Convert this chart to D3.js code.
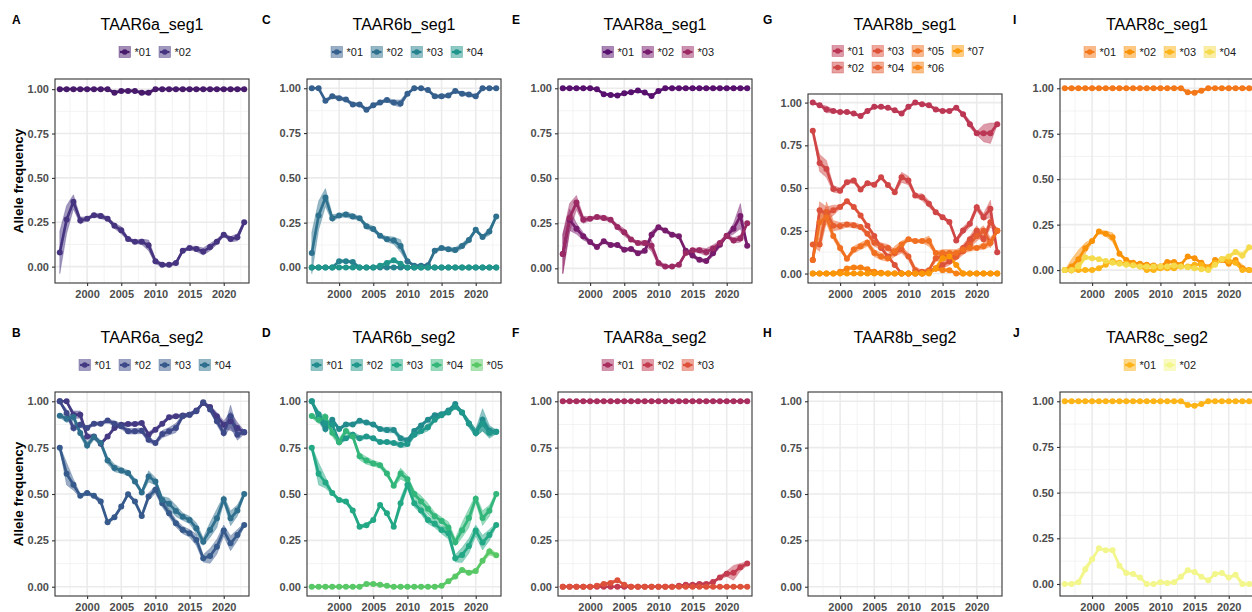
<!DOCTYPE html>
<html>
<head>
<meta charset="utf-8">
<script src="https://cdn.jsdelivr.net/npm/d3@7"></script>
<style>
  body { margin: 0; background: #fff; }
  svg { display: block; font-family: "Liberation Sans", Arial, sans-serif; }
</style>
</head>
<body>
<div id="chart"></div>
<script>
var years = [1996,1997,1998,1999,2000,2001,2002,2003,2004,2005,2006,2007,2008,2009,
             2010,2011,2012,2013,2014,2015,2016,2017,2018,2019,2020,2021,2022,2023];
var xTicks = [2000, 2005, 2010, 2015, 2020];
var yTicks = [0, 0.25, 0.5, 0.75, 1];

// A
var alleles_TAAR6a_seg1 = ["*01","*02"];
var freq_TAAR6a_seg1 = [
  [1,1,1,1,1,1,1,1,0.98,0.99,0.99,0.99,0.98,0.98,1,1,1,1,1,1,1,1,1,1,1,1,1,1],
  [0.08,0.265,0.365,0.26,0.27,0.29,0.285,0.27,0.23,0.205,0.155,0.14,0.14,0.12,0.03,0.01,0.01,0.02,0.09,0.105,0.1,0.085,0.11,0.14,0.18,0.155,0.165,0.25]
];
var band_TAAR6a_seg1 = [
  [0,0,0,0,0,0,0,0,0.01,0.005,0.005,0.005,0.01,0.01,0.005,0,0,0,0,0,0,0,0,0,0,0,0,0],
  [0.12,0.08,0.04,0.02,0.01,0.01,0.015,0.01,0.015,0.02,0.01,0.01,0.015,0.03,0.015,0.01,0.005,0.01,0.01,0.01,0.015,0.02,0.02,0.015,0.01,0.015,0.02,0.01]
];

// B
var alleles_TAAR6a_seg2 = ["*01","*02","*03","*04"];
var freq_TAAR6a_seg2 = [
  [1,1,0.928,0.928,0.81,0.81,0.771,0.81,0.856,0.874,0.877,0.877,0.883,0.82,0.847,0.879,0.914,0.919,0.923,0.928,0.95,0.991,0.969,0.919,0.874,0.892,0.856,0.832],
  [1,0.937,0.856,0.874,0.856,0.879,0.879,0.896,0.879,0.865,0.838,0.838,0.841,0.793,0.775,0.823,0.838,0.856,0.919,0.928,0.946,0.995,0.955,0.892,0.829,0.919,0.82,0.834],
  [0.75,0.609,0.55,0.49,0.505,0.49,0.459,0.348,0.375,0.432,0.499,0.459,0.382,0.486,0.523,0.45,0.396,0.342,0.306,0.288,0.252,0.153,0.166,0.216,0.303,0.234,0.279,0.333],
  [0.922,0.906,0.915,0.829,0.762,0.807,0.775,0.681,0.64,0.627,0.613,0.568,0.508,0.595,0.568,0.468,0.447,0.409,0.378,0.36,0.315,0.243,0.306,0.369,0.472,0.369,0.411,0.5]
];
var band_TAAR6a_seg2 = [
  [0,0,0.02,0.02,0.015,0.01,0.01,0.01,0.01,0.01,0.01,0.01,0.01,0.015,0.01,0.01,0.01,0.01,0.01,0.01,0.01,0.005,0.01,0.02,0.02,0.05,0.03,0.01],
  [0,0.02,0.02,0.015,0.01,0.01,0.01,0.01,0.015,0.015,0.015,0.015,0.015,0.015,0.01,0.02,0.02,0.025,0.01,0.01,0.01,0.005,0.01,0.02,0.02,0.06,0.03,0.01],
  [0.01,0.06,0.03,0.01,0.01,0.01,0.015,0.01,0.01,0.01,0.01,0.01,0.01,0.02,0.02,0.02,0.02,0.02,0.02,0.02,0.03,0.02,0.04,0.04,0.03,0.04,0.03,0.01],
  [0.01,0.02,0.02,0.02,0.02,0.015,0.015,0.02,0.02,0.015,0.015,0.015,0.01,0.03,0.02,0.02,0.03,0.03,0.02,0.02,0.03,0.02,0.04,0.05,0.02,0.04,0.03,0.01]
];

// C
var alleles_TAAR6b_seg1 = ["*01","*02","*03","*04"];
var freq_TAAR6b_seg1 = [
  [1,1,0.93,0.955,0.945,0.937,0.91,0.91,0.88,0.905,0.92,0.935,0.92,0.915,0.97,1,1,0.99,0.955,0.955,0.96,0.985,0.97,0.965,0.955,1,1,1],
  [0.08,0.29,0.39,0.275,0.29,0.295,0.285,0.275,0.23,0.215,0.177,0.158,0.15,0.12,0.035,0.01,0.01,0.013,0.093,0.108,0.102,0.097,0.12,0.153,0.21,0.17,0.2,0.285],
  [0,0,0,0,0.035,0.035,0.03,0,0,0,0,0,0,0,0,0,0,0,0,0,0,0,0,0,0,0,0,0],
  [0,0,0,0,0,0,0,0,0,0,0.01,0.025,0.04,0.02,0,0,0,0,0,0,0,0,0,0,0,0,0,0]
];
var band_TAAR6b_seg1 = [
  [0,0,0.01,0.01,0.01,0.01,0.01,0.01,0.01,0.01,0.01,0.01,0.015,0.02,0.01,0,0,0.005,0.01,0.01,0.01,0.005,0.01,0.01,0.01,0,0,0],
  [0.115,0.08,0.05,0.02,0.01,0.015,0.015,0.01,0.015,0.015,0.01,0.015,0.02,0.035,0.01,0.005,0.005,0.005,0.01,0.01,0.01,0.015,0.015,0.015,0.01,0.01,0.02,0.01],
  [0,0,0,0,0.01,0.005,0.01,0,0,0,0,0,0,0,0,0,0,0,0,0,0,0,0,0,0,0,0,0],
  [0,0,0,0,0,0,0,0,0,0,0.005,0.01,0.01,0.01,0,0,0,0,0,0,0,0,0,0,0,0,0,0]
];

// D
var alleles_TAAR6b_seg2 = ["*01","*02","*03","*04","*05"];
var freq_TAAR6b_seg2 = [
  [1,0.91,0.85,0.9,0.85,0.875,0.875,0.895,0.885,0.875,0.85,0.845,0.845,0.8,0.79,0.84,0.87,0.9,0.925,0.93,0.95,0.985,0.94,0.88,0.83,0.9,0.84,0.835],
  [1,0.93,0.88,0.875,0.78,0.8,0.82,0.8,0.81,0.8,0.78,0.78,0.775,0.765,0.77,0.82,0.84,0.86,0.9,0.925,0.94,0.97,0.94,0.88,0.83,0.88,0.83,0.835],
  [0.75,0.609,0.562,0.505,0.468,0.459,0.411,0.324,0.332,0.36,0.441,0.396,0.324,0.45,0.55,0.45,0.411,0.36,0.339,0.306,0.288,0.153,0.171,0.22,0.303,0.238,0.279,0.333],
  [0.92,0.9,0.915,0.83,0.78,0.84,0.81,0.703,0.68,0.665,0.655,0.61,0.545,0.61,0.58,0.5,0.46,0.42,0.38,0.355,0.32,0.24,0.305,0.37,0.475,0.37,0.41,0.5],
  [0,0,0,0,0,0,0,0,0.015,0.015,0.01,0.005,0,0,0,0,0,0,0,0.005,0.03,0.055,0.09,0.075,0.085,0.14,0.19,0.17]
];
var band_TAAR6b_seg2 = [
  [0,0.02,0.02,0.015,0.01,0.01,0.01,0.01,0.01,0.01,0.01,0.015,0.015,0.015,0.01,0.01,0.01,0.01,0.01,0.01,0.01,0.01,0.01,0.02,0.02,0.06,0.03,0.01],
  [0,0.02,0.02,0.015,0.015,0.01,0.015,0.015,0.01,0.01,0.01,0.01,0.01,0.015,0.015,0.015,0.015,0.02,0.01,0.01,0.01,0.01,0.01,0.02,0.02,0.04,0.03,0.01],
  [0.01,0.06,0.03,0.01,0.01,0.01,0.015,0.01,0.01,0.01,0.01,0.01,0.01,0.03,0.02,0.02,0.02,0.02,0.02,0.02,0.03,0.02,0.04,0.04,0.03,0.04,0.03,0.01],
  [0.01,0.02,0.02,0.02,0.02,0.015,0.015,0.02,0.02,0.015,0.015,0.015,0.01,0.03,0.02,0.02,0.03,0.03,0.02,0.02,0.03,0.02,0.04,0.05,0.02,0.04,0.03,0.01],
  [0,0,0,0,0,0,0,0,0.005,0.005,0.005,0,0,0,0,0,0,0,0,0,0.005,0.01,0.01,0.01,0.01,0.01,0.02,0.01]
];

// E
var alleles_TAAR8a_seg1 = ["*01","*02","*03"];
var freq_TAAR8a_seg1 = [
  [1,1,1,1,1,0.995,0.967,0.963,0.96,0.972,0.978,0.987,0.976,0.957,0.985,1,1,1,1,1,1,1,1,1,1,1,1,1],
  [0.08,0.27,0.22,0.178,0.146,0.118,0.15,0.13,0.13,0.103,0.108,0.084,0.097,0.187,0.228,0.21,0.187,0.178,0.097,0.071,0.047,0.041,0.084,0.131,0.181,0.22,0.29,0.125],
  [0.08,0.28,0.365,0.27,0.275,0.285,0.28,0.27,0.23,0.2,0.16,0.14,0.14,0.125,0.03,0.01,0.01,0.02,0.085,0.1,0.1,0.09,0.11,0.14,0.18,0.155,0.165,0.25]
];
var band_TAAR8a_seg1 = [
  [0,0,0,0,0,0.005,0.005,0.005,0.005,0.005,0.005,0.005,0.005,0.005,0.005,0,0,0,0,0,0,0,0,0,0,0,0,0],
  [0.11,0.06,0.03,0.02,0.01,0.01,0.01,0.01,0.01,0.01,0.01,0.01,0.01,0.02,0.01,0.01,0.01,0.01,0.01,0.01,0.01,0.01,0.015,0.015,0.01,0.03,0.07,0.01],
  [0.11,0.08,0.04,0.02,0.01,0.01,0.015,0.01,0.015,0.02,0.01,0.01,0.015,0.03,0.015,0.01,0.005,0.01,0.01,0.01,0.015,0.02,0.02,0.015,0.01,0.015,0.02,0.01]
];

// F
var alleles_TAAR8a_seg2 = ["*01","*02","*03"];
var freq_TAAR8a_seg2 = [
  [1,1,1,1,1,1,1,1,1,1,1,1,1,1,1,1,1,1,1,1,1,1,1,1,1,1,1,1],
  [0,0,0,0,0,0,0,0,0,0,0,0,0,0,0,0,0,0.005,0.01,0.01,0.015,0.015,0.025,0.05,0.07,0.075,0.105,0.125],
  [0,0,0,0,0,0.005,0.015,0.02,0.035,0.01,0,0,0,0,0,0,0,0,0,0,0,0,0,0,0,0,0,0]
];
var band_TAAR8a_seg2 = [
  [0,0,0,0,0,0,0,0,0,0,0,0,0,0,0,0,0,0,0,0,0,0,0,0,0,0,0,0],
  [0,0,0,0,0,0,0,0,0,0,0,0,0,0,0,0,0,0,0.005,0.005,0.005,0.005,0.005,0.01,0.015,0.04,0.02,0.01],
  [0,0,0,0,0,0.005,0.005,0.01,0.005,0.005,0,0,0,0,0,0,0,0,0,0,0,0,0,0,0,0,0,0]
];

// G
var alleles_TAAR8b_seg1 = ["*01","*02","*03","*04","*05","*06","*07"];
var freq_TAAR8b_seg1 = [
  [1,0.985,0.96,0.951,0.945,0.945,0.936,0.922,0.951,0.975,0.975,0.97,0.955,0.936,0.975,1,0.99,0.985,0.96,0.951,0.951,0.97,0.932,0.874,0.821,0.821,0.821,0.874],
  [0.835,0.647,0.612,0.495,0.485,0.534,0.544,0.491,0.528,0.52,0.563,0.518,0.476,0.563,0.544,0.456,0.447,0.408,0.359,0.33,0.301,0.194,0.252,0.291,0.388,0.33,0.379,0.125],
  [0.08,0.37,0.35,0.37,0.39,0.423,0.39,0.34,0.28,0.22,0.15,0.1,0.05,0,0,0,0,0.01,0.03,0.05,0.07,0.1,0.15,0.2,0.25,0.2,0.3,0.25],
  [0.17,0.17,0.36,0.28,0.278,0.287,0.283,0.272,0.233,0.18,0.16,0.15,0.12,0.14,0.1,0.02,0.01,0.02,0.09,0.1,0.1,0.1,0.13,0.17,0.22,0.25,0.18,0.25],
  [0.08,0.3,0.33,0.22,0.15,0.087,0.14,0.16,0.18,0.12,0.1,0.09,0.13,0.17,0.2,0.19,0.19,0.19,0.12,0.12,0.12,0.12,0.14,0.15,0.15,0.16,0.18,0.25],
  [0,0,0,0,0.01,0.03,0.035,0.035,0.025,0.01,0.005,0,0,0,0,0,0,0.01,0.03,0.02,0.02,0,0,0,0,0,0,0],
  [0,0,0,0,0,0,0,0,0,0,0,0,0,0,0,0,0,0,0.03,0.09,0.1,0.05,0,0,0,0,0,0]
];
var band_TAAR8b_seg1 = [
  [0,0.005,0.02,0.01,0.005,0.005,0.005,0.005,0.005,0.005,0.005,0.005,0.005,0.005,0.005,0,0.005,0.005,0.01,0.005,0.005,0.005,0.01,0.02,0.01,0.05,0.06,0.005],
  [0.005,0.05,0.05,0.02,0.015,0.01,0.015,0.01,0.01,0.01,0.01,0.01,0.01,0.03,0.025,0.01,0.02,0.02,0.01,0.01,0.01,0.01,0.02,0.02,0.02,0.02,0.05,0.005],
  [0.01,0.05,0.04,0.03,0.01,0.01,0.01,0.01,0.01,0.01,0.01,0.01,0.01,0.005,0,0,0,0.005,0.01,0.02,0.02,0.02,0.02,0.02,0.03,0.02,0.03,0.01],
  [0.01,0.04,0.06,0.03,0.02,0.015,0.015,0.015,0.015,0.02,0.02,0.02,0.02,0.02,0.02,0.02,0.01,0.01,0.02,0.02,0.02,0.02,0.02,0.02,0.03,0.03,0.03,0.01],
  [0.01,0.07,0.04,0.02,0.02,0.01,0.02,0.02,0.02,0.02,0.02,0.02,0.03,0.02,0.01,0.01,0.01,0.03,0.01,0.02,0.02,0.02,0.02,0.02,0.01,0.02,0.02,0.01],
  [0,0,0,0,0.005,0.01,0.01,0.01,0.01,0.005,0,0,0,0,0,0,0,0.005,0.01,0.01,0.01,0,0,0,0,0,0,0],
  [0,0,0,0,0,0,0,0,0,0,0,0,0,0,0,0,0,0,0.01,0.02,0.02,0.01,0,0,0,0,0,0]
];

// H
var alleles_TAAR8b_seg2 = [];
var freq_TAAR8b_seg2 = [];
var band_TAAR8b_seg2 = [];

// I
var alleles_TAAR8c_seg1 = ["*01","*02","*03","*04"];
var freq_TAAR8c_seg1 = [
  [1,1,1,1,1,1,1,1,1,1,1,1,1,1,1,1,1,1,0.978,0.976,0.987,1,1,1,1,1,1,1],
  [0,0.02,0.06,0.12,0.16,0.212,0.2,0.18,0.09,0.055,0.04,0.035,0.03,0.025,0.02,0.045,0.045,0.03,0.075,0.065,0.04,0.015,0.055,0.055,0.035,0.055,0.01,0],
  [0,0,0,0,0,0.01,0.03,0.05,0.04,0.035,0.03,0.02,0,0,0.01,0.01,0.01,0.02,0.02,0.03,0.03,0.01,0.04,0.06,0.05,0.04,0,0],
  [0,0,0.02,0.07,0.065,0.06,0.05,0.04,0.035,0.03,0.025,0.02,0.02,0.02,0.02,0.02,0.025,0.02,0.015,0.01,0.005,0,0.03,0.06,0.075,0.1,0.08,0.125]
];
var band_TAAR8c_seg1 = [
  [0,0,0,0,0,0,0,0,0,0,0,0,0,0,0,0,0,0,0.005,0.005,0.005,0,0,0,0,0,0,0],
  [0,0.04,0.05,0.03,0.01,0.01,0.015,0.025,0.01,0.005,0.005,0.005,0.005,0.005,0.005,0.005,0.005,0.005,0.005,0.005,0.005,0.005,0.005,0.005,0.005,0.01,0.02,0],
  [0,0,0,0,0,0.005,0.005,0.005,0.005,0.005,0.005,0.005,0,0,0.005,0.005,0.005,0.005,0.005,0.005,0.005,0.005,0.005,0.01,0.01,0.01,0,0],
  [0,0.01,0.02,0.01,0.005,0.005,0.005,0.005,0.005,0.005,0.005,0.005,0.005,0.005,0.005,0.005,0.005,0.005,0.005,0.005,0.005,0,0.01,0.01,0.01,0.01,0.02,0.01]
];

// J
var alleles_TAAR8c_seg2 = ["*01","*02"];
var freq_TAAR8c_seg2 = [
  [1,1,1,1,1,1,1,1,1,1,1,1,1,1,1,1,1,1,0.98,0.975,0.985,1,1,1,1,1,1,1],
  [0,0,0.01,0.08,0.135,0.195,0.185,0.185,0.1,0.06,0.055,0.035,0,0,0.01,0.005,0.01,0.04,0.075,0.065,0.04,0.02,0.055,0.06,0.035,0.05,0,0]
];
var band_TAAR8c_seg2 = [
  [0,0,0,0,0,0,0,0,0,0,0,0,0,0,0,0,0,0,0.005,0.005,0.005,0,0,0,0,0,0,0],
  [0,0,0.01,0.02,0.01,0.005,0.005,0.005,0.01,0.005,0.005,0.005,0,0,0.005,0.005,0.005,0.005,0.005,0.005,0.005,0.005,0.005,0.005,0.005,0.01,0.015,0]
];

var vir = d3.interpolateViridis, inf = d3.interpolateInferno;

var panels = [
  {letter:"A", title:"TAAR6a_seg1", row:0, col:0, alleles:alleles_TAAR6a_seg1, freq:freq_TAAR6a_seg1, band:band_TAAR6a_seg1, colors:[0.07,0.15].map(vir)},
  {letter:"B", title:"TAAR6a_seg2", row:1, col:0, alleles:alleles_TAAR6a_seg2, freq:freq_TAAR6a_seg2, band:band_TAAR6a_seg2, colors:[0.17,0.22,0.28,0.36].map(vir)},
  {letter:"C", title:"TAAR6b_seg1", row:0, col:1, alleles:alleles_TAAR6b_seg1, freq:freq_TAAR6b_seg1, band:band_TAAR6b_seg1, colors:[0.3,0.37,0.44,0.52].map(vir)},
  {letter:"D", title:"TAAR6b_seg2", row:1, col:1, alleles:alleles_TAAR6b_seg2, freq:freq_TAAR6b_seg2, band:band_TAAR6b_seg2, colors:[0.48,0.53,0.6,0.66,0.74].map(vir)},
  {letter:"E", title:"TAAR8a_seg1", row:0, col:2, alleles:alleles_TAAR8a_seg1, freq:freq_TAAR8a_seg1, band:band_TAAR8a_seg1, colors:[0.25,0.33,0.42].map(inf)},
  {letter:"F", title:"TAAR8a_seg2", row:1, col:2, alleles:alleles_TAAR8a_seg2, freq:freq_TAAR8a_seg2, band:band_TAAR8a_seg2, colors:[0.45,0.52,0.6].map(inf)},
  {letter:"G", title:"TAAR8b_seg1", row:0, col:3, alleles:alleles_TAAR8b_seg1, freq:freq_TAAR8b_seg1, band:band_TAAR8b_seg1, colors:[0.5,0.56,0.6,0.64,0.68,0.72,0.77].map(inf)},
  {letter:"H", title:"TAAR8b_seg2", row:1, col:3, alleles:alleles_TAAR8b_seg2, freq:freq_TAAR8b_seg2, band:band_TAAR8b_seg2, colors:[]},
  {letter:"I", title:"TAAR8c_seg1", row:0, col:4, alleles:alleles_TAAR8c_seg1, freq:freq_TAAR8c_seg1, band:band_TAAR8c_seg1, colors:[0.7,0.76,0.83,0.91].map(inf)},
  {letter:"J", title:"TAAR8c_seg2", row:1, col:4, alleles:alleles_TAAR8c_seg2, freq:freq_TAAR8c_seg2, band:band_TAAR8c_seg2, colors:[0.83,0.97].map(inf)}
];

var width = 1252, height = 612;
var plotLeft = [55, 307, 558, 808, 1060], plotW = 194, rowOff = 313;
var letterX = [12, 262, 512, 763, 1013];

var svg = d3.select("#chart").append("svg")
    .attr("width", width)
    .attr("height", height);

panels.forEach(function(p) {
  var y0 = p.row * rowOff;
  var left = plotLeft[p.col], right = left + plotW;
  var nRows = p.alleles.length > 5 ? 2 : 1;
  var top = y0 + (nRows > 1 ? 94 : 79), bottom = y0 + 283;
  var cx = (left + right) / 2;

  // y range from the data, with 5% padding like ggplot
  var lo = 0, hi = 1;
  p.freq.forEach(function(s, k) {
    s.forEach(function(v, i) {
      lo = Math.min(lo, v - p.band[k][i]);
      hi = Math.max(hi, v + p.band[k][i]);
    });
  });
  var pad = (hi - lo) * 0.05;

  var x = d3.scaleLinear().domain([1995.3, 2023.7]).range([left, right]);
  var y = d3.scaleLinear().domain([lo - pad, hi + pad]).range([bottom, top]);

  var g = svg.append("g");

  // panel letter and title
  g.append("text")
    .attr("x", letterX[p.col]).attr("y", y0 + 23.5)
    .attr("font-size", 12).attr("font-weight", "bold")
    .text(p.letter);
  g.append("text")
    .attr("x", cx).attr("y", y0 + 29.5)
    .attr("text-anchor", "middle")
    .attr("font-size", 16)
    .text(p.title);

  // grid
  var minorY = [0.125, 0.375, 0.625, 0.875].filter(function(v) { return v > y.domain()[0] && v < y.domain()[1]; });
  var minorX = [1997.5, 2002.5, 2007.5, 2012.5, 2017.5, 2022.5];
  g.selectAll(".gmy").data(minorY).enter().append("line")
    .attr("x1", left).attr("x2", right)
    .attr("y1", function(d) { return y(d); }).attr("y2", function(d) { return y(d); })
    .attr("stroke", "#F0F0F0").attr("stroke-width", 0.8);
  g.selectAll(".gmx").data(minorX).enter().append("line")
    .attr("y1", top).attr("y2", bottom)
    .attr("x1", function(d) { return x(d); }).attr("x2", function(d) { return x(d); })
    .attr("stroke", "#F0F0F0").attr("stroke-width", 0.8);
  g.selectAll(".gy").data(yTicks).enter().append("line")
    .attr("x1", left).attr("x2", right)
    .attr("y1", function(d) { return y(d); }).attr("y2", function(d) { return y(d); })
    .attr("stroke", "#EBEBEB").attr("stroke-width", 1.6);
  g.selectAll(".gx").data(xTicks).enter().append("line")
    .attr("y1", top).attr("y2", bottom)
    .attr("x1", function(d) { return x(d); }).attr("x2", function(d) { return x(d); })
    .attr("stroke", "#EBEBEB").attr("stroke-width", 1.6);

  var area = d3.area()
    .x(function(d, i) { return x(years[i]); })
    .y0(function(d) { return y(d[0] - d[1]); })
    .y1(function(d) { return y(d[0] + d[1]); });
  var line = d3.line()
    .x(function(d, i) { return x(years[i]); })
    .y(function(d) { return y(d); });

  // ribbons, then lines, then points
  p.freq.forEach(function(s, k) {
    var pts = s.map(function(v, i) { return [v, p.band[k][i]]; });
    g.append("path")
      .attr("d", area(pts))
      .attr("fill", p.colors[k]).attr("fill-opacity", 0.5)
      .attr("stroke", p.colors[k]).attr("stroke-opacity", 0.6).attr("stroke-width", 0.5);
  });
  p.freq.forEach(function(s, k) {
    g.append("path")
      .attr("d", line(s))
      .attr("fill", "none")
      .attr("stroke", p.colors[k]).attr("stroke-width", 2.7)
      .attr("stroke-linejoin", "round");
  });
  p.freq.forEach(function(s, k) {
    g.selectAll(null).data(s).enter().append("circle")
      .attr("cx", function(d, i) { return x(years[i]); })
      .attr("cy", function(d) { return y(d); })
      .attr("r", 3)
      .attr("fill", p.colors[k]);
  });

  // border
  g.append("rect")
    .attr("x", left).attr("y", top)
    .attr("width", right - left).attr("height", bottom - top)
    .attr("fill", "none").attr("stroke", "#333333").attr("stroke-width", 1.1);

  // axes
  var ya = g.append("g")
    .attr("transform", "translate(" + left + ",0)")
    .call(d3.axisLeft(y).tickValues(yTicks).tickFormat(d3.format(".2f")).tickSize(3).tickPadding(3));
  var xa = g.append("g")
    .attr("transform", "translate(0," + bottom + ")")
    .call(d3.axisBottom(x).tickValues(xTicks).tickFormat(d3.format("d")).tickSize(3).tickPadding(4));
  [ya, xa].forEach(function(a) {
    a.select(".domain").remove();
    a.selectAll("line").attr("stroke", "#333333").attr("stroke-width", 1.1);
    a.selectAll("text")
      .attr("fill", "#4D4D4D")
      .attr("font-size", 11).attr("font-weight", "bold")
      .attr("font-family", "Liberation Sans, Arial, sans-serif");
  });

  if (p.col === 0) {
    g.append("text")
      .attr("transform", "translate(22.5," + ((top + bottom) / 2) + ") rotate(-90)")
      .attr("text-anchor", "middle")
      .attr("font-size", 13.5).attr("font-weight", "bold")
      .text("Allele frequency");
  }

  // legend
  if (p.alleles.length) {
    var nCols = Math.ceil(p.alleles.length / nRows);
    var step = 40, legW = nCols * step - 8;
    var lx = cx + 3 - legW / 2;
    var ly = y0 + (nRows > 1 ? 51 : 52);
    p.alleles.forEach(function(a, i) {
      var c = Math.floor(i / nRows), r = i % nRows;
      var kx = lx + c * step, ky = ly + r * 16.5;
      var it = g.append("g").attr("transform", "translate(" + kx + "," + ky + ")");
      it.append("rect")
        .attr("x", 0).attr("y", -5.5).attr("width", 11.5).attr("height", 11)
        .attr("fill", p.colors[i]).attr("fill-opacity", 0.5)
        .attr("stroke", p.colors[i]).attr("stroke-opacity", 0.6).attr("stroke-width", 0.6);
      it.append("line")
        .attr("x1", 1).attr("x2", 10.5).attr("y1", 0).attr("y2", 0)
        .attr("stroke", p.colors[i]).attr("stroke-width", 2.2);
      it.append("circle").attr("cx", 5.75).attr("cy", 0).attr("r", 2.8).attr("fill", p.colors[i]);
      it.append("text")
        .attr("x", 15.5).attr("y", 4)
        .attr("font-size", 11).attr("fill", "#1A1A1A")
        .text(a);
    });
  }
});
</script>
</body>
</html>
